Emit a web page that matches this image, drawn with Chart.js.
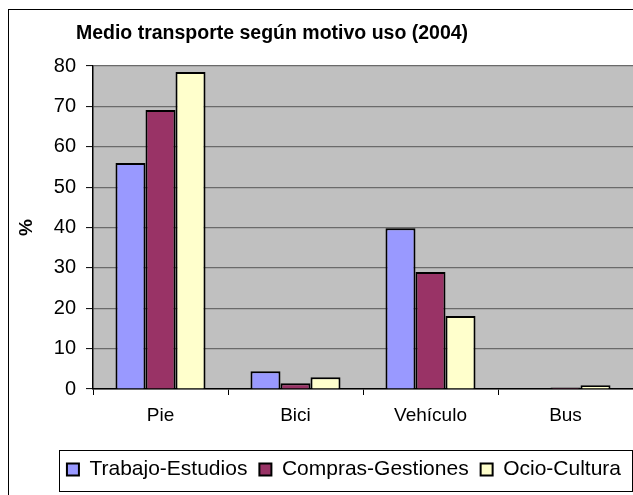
<!DOCTYPE html>
<html>
<head>
<meta charset="utf-8">
<script src="https://cdn.jsdelivr.net/npm/chart.js@4.4.1/dist/chart.umd.min.js"></script>
<style>
  html, body { margin: 0; padding: 0; background: #fff; overflow: hidden; }
  #wrap { position: relative; width: 633px; height: 495px; overflow: hidden; }
  #frame { position: absolute; left: 8px; top: 9px; width: 700px; height: 600px; border: 1px solid #000; }
  #chart1 { position: absolute; left: 0; top: 0; }
</style>
</head>
<body>
<div id="wrap">
  <div id="frame"></div>
  <canvas id="chart1" width="633" height="495"></canvas>
</div>
<script>
const categories = ["Pie", "Bici", "Vehículo", "Bus"];
const trabajo = [56, 4.4, 39.8, 0];
const compras = [69.1, 1.4, 29, 0.4];
const ocio = [78.5, 2.9, 18.1, 0.9];
const seriesNames = ["Trabajo-Estudios", "Compras-Gestiones", "Ocio-Cultura"];
const titleText = "Medio transporte según motivo uso (2004)";

const FONT = "'Liberation Sans', Arial, sans-serif";

// gray plot background, title and legend frame
const excelLook = {
  id: "excelLook",
  beforeDraw(chart) {
    const a = chart.chartArea;
    const ctx = chart.ctx;
    ctx.save();
    ctx.fillStyle = "#c0c0c0";
    ctx.fillRect(a.left, a.top, a.right - a.left, a.bottom - a.top);
    ctx.restore();
  },
  afterDraw(chart) {
    const ctx = chart.ctx;
    ctx.save();
    ctx.font = "bold 19.5px " + FONT;
    ctx.fillStyle = "#000";
    ctx.textAlign = "center";
    ctx.textBaseline = "alphabetic";
    ctx.fillText(titleText, 272, 39);

    const boxes = chart.legend.legendHitBoxes;
    if (boxes && boxes.length) {
      const first = boxes[0];
      const last = boxes[boxes.length - 1];
      const x1 = first.left - 8;
      const x2 = last.left + last.width + 11;
      const y1 = first.top - 9;
      const y2 = first.top + first.height + 11;
      ctx.strokeStyle = "#000";
      ctx.lineWidth = 1;
      ctx.strokeRect(Math.round(x1) + 0.5, Math.round(y1) + 0.5, Math.round(x2 - x1), Math.round(y2 - y1));
    }
    ctx.restore();
  }
};

function makeSet(label, values, color) {
  return {
    label: label,
    data: values,
    backgroundColor: color,
    borderColor: "#000",
    borderWidth: 2,
    categoryPercentage: 0.667,
    barPercentage: 1
  };
}

new Chart(document.getElementById("chart1"), {
  type: "bar",
  data: {
    labels: categories,
    datasets: [
      makeSet(seriesNames[0], trabajo, "#9999ff"),
      makeSet(seriesNames[1], compras, "#993366"),
      makeSet(seriesNames[2], ocio, "#ffffcc")
    ]
  },
  options: {
    responsive: false,
    animation: false,
    layout: { padding: { top: 66, left: 0, right: 0, bottom: 5 } },
    plugins: {
      title: { display: false },
      tooltip: { enabled: false },
      legend: {
        position: "bottom",
        align: "end",
        labels: {
          color: "#000",
          font: { family: FONT, size: 21 },
          boxWidth: 12,
          boxHeight: 12,
          padding: 12
        }
      }
    },
    scales: {
      x: {
        offset: true,
        afterFit(scale) { scale.height = 58; },
        grid: {
          offset: true,
          drawOnChartArea: false,
          drawTicks: true,
          tickLength: 6,
          tickColor: "#000",
          tickWidth: 1
        },
        border: { color: "#000", width: 1.5 },
        ticks: {
          color: "#000",
          padding: 9,
          font: { family: FONT, size: 19 }
        }
      },
      y: {
        min: 0,
        max: 80,
        afterFit(scale) { scale.width = 93; },
        grid: {
          color: "#6a6a6a",
          lineWidth: 1.2,
          tickLength: 7,
          tickColor: "#000",
          tickWidth: 1
        },
        border: { color: "#000", width: 1.5 },
        ticks: {
          stepSize: 10,
          color: "#000",
          padding: 10,
          font: { family: FONT, size: 20 }
        },
        title: {
          display: true,
          text: "%",
          color: "#000",
          padding: { top: 15, bottom: 0 },
          font: { family: FONT, size: 19, weight: "bold" }
        }
      }
    }
  },
  plugins: [excelLook]
});
</script>
</body>
</html>
